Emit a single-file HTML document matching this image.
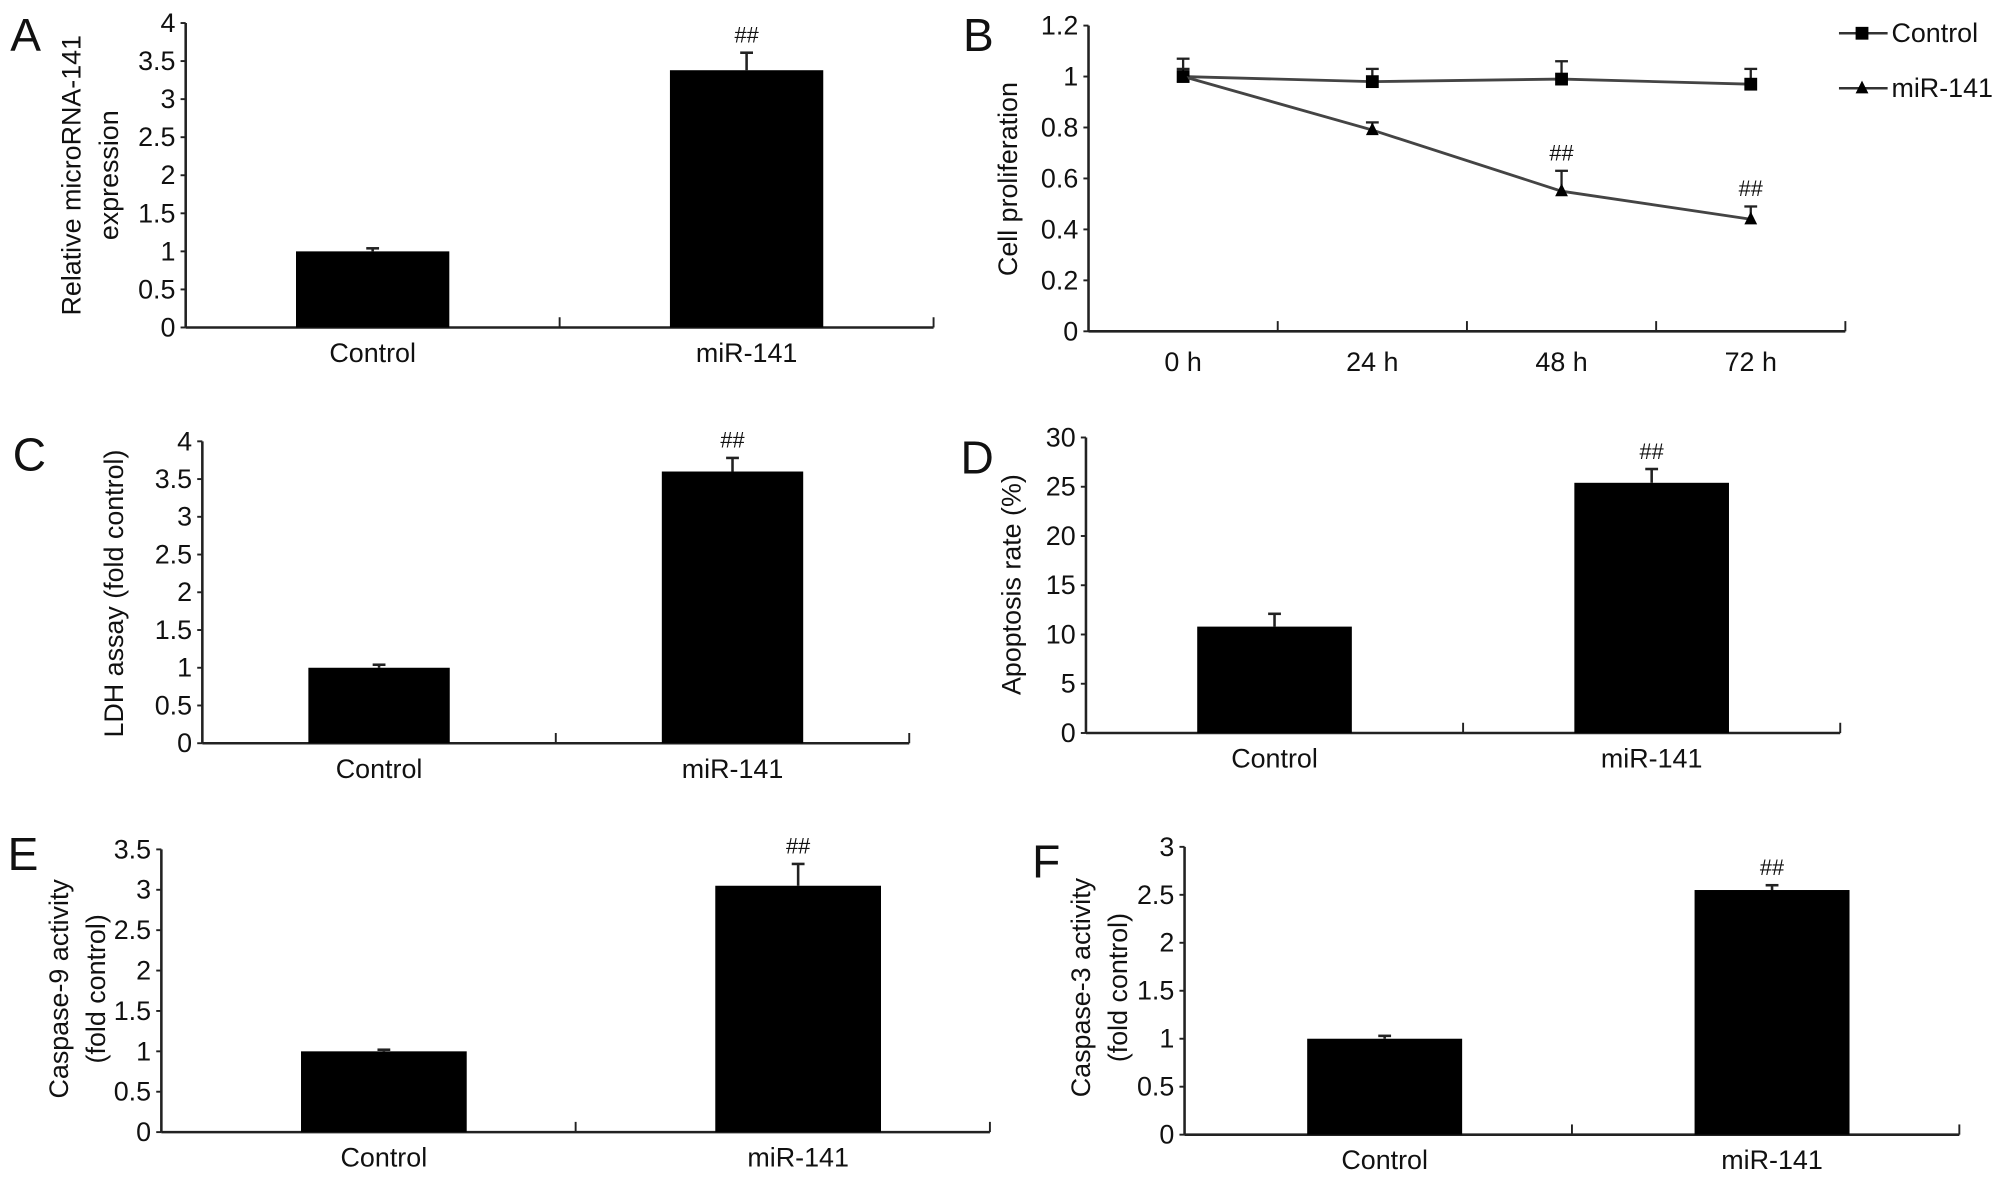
<!DOCTYPE html>
<html><head><meta charset="utf-8"><style>
html,body{margin:0;padding:0;background:#fff;}
svg{display:block;}
text{font-family:"Liberation Sans",Arial,sans-serif;fill:#111;}
</style></head><body>
<svg id="fig" width="2008" height="1182" viewBox="0 0 1568 924" preserveAspectRatio="none" xmlns="http://www.w3.org/2000/svg"></svg>
<script>
// Panel A
const aCats = ["Control","miR-141"];
const aVals = [1.0, 3.38];
const aErrs = [0.04, 0.23];
const aTicks = ["0","0.5","1","1.5","2","2.5","3","3.5","4"];
// Panel C
const cCats = ["Control","miR-141"];
const cVals = [1.0, 3.6];
const cErrs = [0.04, 0.18];
const cTicks = ["0","0.5","1","1.5","2","2.5","3","3.5","4"];
// Panel D
const dCats = ["Control","miR-141"];
const dVals = [10.8, 25.4];
const dErrs = [1.3, 1.4];
const dTicks = ["0","5","10","15","20","25","30"];
// Panel E
const eCats = ["Control","miR-141"];
const eVals = [1.0, 3.05];
const eErrs = [0.02, 0.27];
const eTicks = ["0","0.5","1","1.5","2","2.5","3","3.5"];
// Panel F
const fCats = ["Control","miR-141"];
const fVals = [1.0, 2.55];
const fErrs = [0.03, 0.05];
const fTicks = ["0","0.5","1","1.5","2","2.5","3"];
// Panel B
const bCats = ["0 h","24 h","48 h","72 h"];
const bControl = [1.0, 0.98, 0.99, 0.97];
const bControlErr = [0.07, 0.05, 0.07, 0.06];
const bMir = [1.0, 0.79, 0.55, 0.44];
const bMirErr = [0.03, 0.03, 0.08, 0.05];
const bTicks = ["0","0.2","0.4","0.6","0.8","1","1.2"];

const NS="http://www.w3.org/2000/svg";
const svg=document.getElementById('fig');
function mk(tag,attrs,parent,txt){const e=document.createElementNS(NS,tag);for(const k in attrs)e.setAttribute(k,attrs[k]);if(txt!==undefined)e.textContent=txt;(parent||svg).appendChild(e);return e;}

function barPanel(o){
  const g=mk('g',{});
  
  
  const max=parseFloat(o.ticks[o.ticks.length-1]);
  const y=v=>o.y0-(v/max)*(o.y0-o.yT);
  const n=o.cats.length, bw=(o.xR-o.x0)/n;
  const off=o.off||0;
  const letter=mk('text',{x:o.lx,y:o.ly,'font-size':36},g,o.id.toUpperCase());
  
  
  const ax=mk('line',{x1:o.x0,y1:o.yT,x2:o.x0,y2:o.y0,stroke:'#222','stroke-width':2},g);
  
  
  const xa=mk('line',{x1:o.x0,y1:o.y0,x2:o.xR,y2:o.y0,stroke:'#222','stroke-width':2},g);
  
  
  o.ticks.forEach(t=>{
    const v=parseFloat(t), yy=y(v);
    mk('line',{x1:o.x0-4,y1:yy,x2:o.x0,y2:yy,stroke:'#222','stroke-width':1.5},g);
    const tl=mk('text',{x:o.x0-8,y:yy+7,'font-size':21,'text-anchor':'end'},g,t);
    
    
  });
  for(let i=1;i<=n;i++){mk('line',{x1:o.x0+bw*i,y1:o.y0,x2:o.x0+bw*i,y2:o.y0-8,stroke:'#222','stroke-width':1.5},g);}
  o.cats.forEach((c,i)=>{
    const cx=o.x0+bw*(i+0.5)+off, w=bw*o.frac;
    const top=y(o.vals[i]), et=y(o.vals[i]+o.errs[i]);
    mk('line',{x1:cx,y1:top,x2:cx,y2:et,stroke:'#222','stroke-width':2},g);
    mk('line',{x1:cx-5,y1:et,x2:cx+5,y2:et,stroke:'#222','stroke-width':2},g);
    const b=mk('rect',{x:cx-w/2,y:top,width:w,height:o.y0-top,fill:'#000'},g);
    
    
    const cl=mk('text',{x:cx,y:o.y0+27,'font-size':21,'text-anchor':'middle'},g,c);
    
    
    if(i>0){const s=mk('text',{x:cx,y:et-8,'font-size':17,'text-anchor':'middle'},g,'##');
      
      }
  });
  const lines=o.title;
  const tg=mk('text',{'font-size':21,'text-anchor':'middle',transform:`translate(${o.tx},${o.ty}) rotate(-90)`},g);
  
  
  lines.forEach((l,k)=>mk('tspan',{x:0,y:k*29},tg,l));
}

barPanel({id:'a',cats:aCats,vals:aVals,errs:aErrs,ticks:aTicks,x0:145,xR:729,yT:18,y0:256,frac:0.41,lx:8,ly:40,title:["Relative microRNA-141","expression"],tx:63,ty:137});
barPanel({id:'c',cats:cCats,vals:cVals,errs:cErrs,ticks:cTicks,x0:158,xR:710,yT:345,y0:581,frac:0.40,lx:10,ly:368,title:["LDH assay (fold control)"],tx:96,ty:464});
barPanel({id:'d',cats:dCats,vals:dVals,errs:dErrs,ticks:dTicks,x0:848,xR:1437,yT:342,y0:573,frac:0.41,lx:750,ly:370,title:["Apoptosis rate (%)"],tx:797,ty:457});
barPanel({id:'e',cats:eCats,vals:eVals,errs:eErrs,ticks:eTicks,x0:126,xR:773,yT:664,y0:885,frac:0.40,off:12,lx:6,ly:680,title:["Caspase-9 activity","(fold control)"],tx:53,ty:773});
barPanel({id:'f',cats:fCats,vals:fVals,errs:fErrs,ticks:fTicks,x0:925,xR:1530,yT:662,y0:887,frac:0.40,off:5,lx:806,ly:686,title:["Caspase-3 activity","(fold control)"],tx:851,ty:772});

// Panel B line chart
(function(){
  const g=mk('g',{});
  
  
  const x0=850,xR=1441,yT=20,y0=259,max=1.2;
  const y=v=>y0-(v/max)*(y0-yT);
  const bw=(xR-x0)/bCats.length;
  const x=i=>x0+bw*(i+0.5);
  const letter=mk('text',{x:752,y:40,'font-size':36},g,'B');
  
  
  mk('line',{x1:x0,y1:yT,x2:x0,y2:y0,stroke:'#222','stroke-width':2},g);
  mk('line',{x1:x0,y1:y0,x2:xR,y2:y0,stroke:'#222','stroke-width':2},g);
  bTicks.forEach(t=>{const yy=y(parseFloat(t));
    mk('line',{x1:x0-4,y1:yy,x2:x0,y2:yy,stroke:'#222','stroke-width':1.5},g);
    const tl=mk('text',{x:x0-8,y:yy+7,'font-size':21,'text-anchor':'end'},g,t);
    
    });
  for(let i=1;i<=bCats.length;i++)mk('line',{x1:x0+bw*i,y1:y0,x2:x0+bw*i,y2:y0-8,stroke:'#222','stroke-width':1.5},g);
  bCats.forEach((c,i)=>{const cl=mk('text',{x:x(i),y:y0+31,'font-size':21,'text-anchor':'middle'},g,c);
    
    });
  function series(vals,errs,marker,name){
    const p=mk('polyline',{points:vals.map((v,i)=>x(i)+','+y(v)).join(' '),fill:'none',stroke:'#444','stroke-width':2.2},g);
    
    
    vals.forEach((v,i)=>{
      const yy=y(v),et=y(v+errs[i]);
      mk('line',{x1:x(i),y1:yy,x2:x(i),y2:et,stroke:'#222','stroke-width':1.8},g);
      mk('line',{x1:x(i)-5,y1:et,x2:x(i)+5,y2:et,stroke:'#222','stroke-width':1.8},g);
      let m;
      if(marker==='sq')m=mk('rect',{x:x(i)-5,y:yy-5,width:10,height:10,fill:'#000'},g);
      else m=mk('polygon',{points:`${x(i)},${yy-6} ${x(i)-5},${yy+4} ${x(i)+5},${yy+4}`,fill:'#000'},g);
      
      
      if(name==='mir-141'&&i>=2){const s=mk('text',{x:x(i),y:et-8,'font-size':17,'text-anchor':'middle'},g,'##');
        
        }
    });
  }
  series(bControl,bControlErr,'sq','control');
  series(bMir,bMirErr,'tri','mir-141');
  const tt=mk('text',{'font-size':21,'text-anchor':'middle',transform:'translate(794,140) rotate(-90)'},g,'Cell proliferation');
  
  
  const lg=mk('g',{},g);
  
  
  mk('line',{x1:1436,y1:26,x2:1474,y2:26,stroke:'#333','stroke-width':2},lg);
  mk('rect',{x:1449,y:21,width:10,height:10,fill:'#000'},lg);
  mk('text',{x:1477,y:33,'font-size':21},lg,'Control');
  mk('line',{x1:1436,y1:69,x2:1474,y2:69,stroke:'#333','stroke-width':2},lg);
  mk('polygon',{points:'1454,63 1449,73 1459,73',fill:'#000'},lg);
  mk('text',{x:1477,y:76,'font-size':21},lg,'miR-141');
})();
</script>
</body></html>
